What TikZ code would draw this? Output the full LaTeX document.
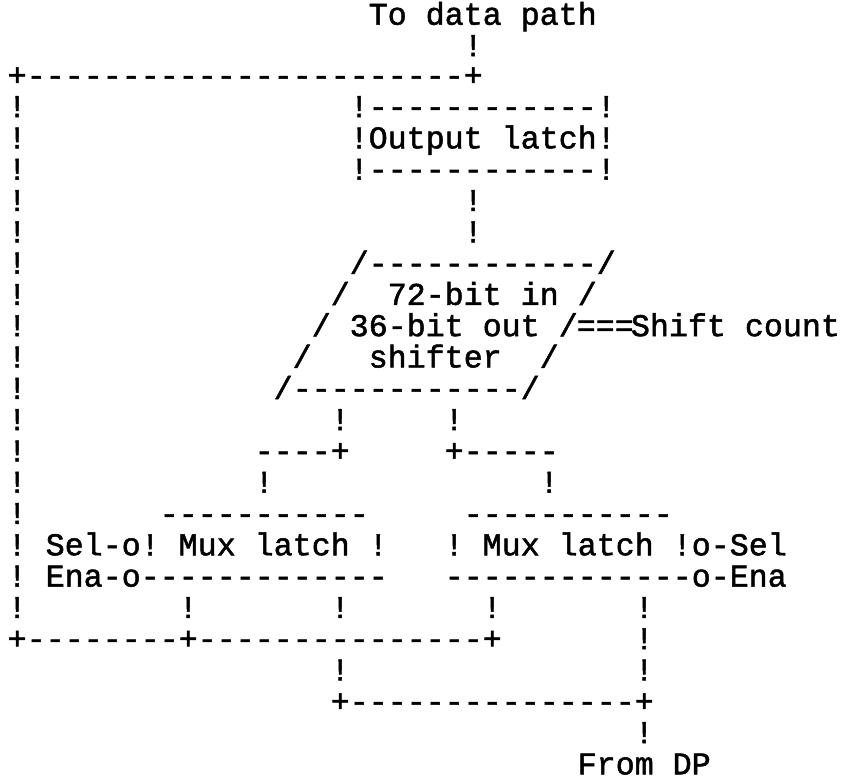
\documentclass[tikz,border=0pt]{standalone}
\usepackage{fontspec}
\setmonofont{Liberation Mono}[FakeBold=1.6]
\usepackage{tikz}
\newcommand{\typed}{\ttfamily\frenchspacing\fontsize{31.67pt}{32pt}\selectfont}

\begin{document}
\begin{tikzpicture}[x=19pt,y=-31.3pt,
   ascii/.style={font=\typed,inner sep=0pt,text depth=0pt,anchor=mid west,yshift=-5pt}]
  \useasboundingbox (-0.895,0.489) rectangle (43.42,25.47);
  \node[ascii] (todp) at (18.5,1.05) {To data path};
  \node[ascii] (up1)  at (23.5,2.05) {!};
  \node[ascii] (loop) at (-0.5,3) {+-----------------------+};
  \foreach \r in {4,...,20}
    \node[ascii] (side\r) at (-0.5,\r) {!};
  \node[ascii] (olt) at (17.5,4) {!------------!};
  \node[ascii] (ol)  at (17.5,5) {!Output latch!};
  \node[ascii] (olb) at (17.5,6) {!------------!};
  \node[ascii] (up2) at (23.5,7) {!};
  \node[ascii] (up3) at (23.5,8) {!};
  % shifter
  \node[ascii] (sht)  at (17.5,9)  {/------------/};
  \node[ascii] (sh1l) at (16.5,10) {/};
  \node[ascii] (sh1)  at (19.5,10) {72-bit in /};
  \node[ascii] (sh2l) at (15.5,11) {/};
  \node[ascii] (sh2)  at (17.5,11) {36-bit out /};
  \node[ascii] (cnt)  at (29.45,11) {===};
  \node[ascii] (shc)  at (32.3,11) {Shift count};
  \node[ascii] (sh3l) at (14.5,12) {/};
  \node[ascii] (sh3)  at (18.5,12) {shifter};
  \node[ascii] (sh3r) at (27.5,12) {/};
  \node[ascii] (shb)  at (13.5,13) {/------------/};
  \node[ascii] (dnl)  at (16.5,14) {!};
  \node[ascii] (dnr)  at (22.5,14) {!};
  \node[ascii] (brl)  at (12.5,15) {----+};
  \node[ascii] (brr)  at (22.5,15) {+-----};
  \node[ascii] (inl)  at (12.5,16) {!};
  \node[ascii] (inr)  at (27.5,16) {!};
  % mux latches
  \node[ascii] (mlt)  at (7.5,17)  {-----------};
  \node[ascii] (mrt)  at (23.5,17) {-----------};
  \node[ascii] (ml)   at (1.5,18)  {Sel-o! Mux latch !};
  \node[ascii] (mr)   at (22.5,18) {! Mux latch !o-Sel};
  \node[ascii] (mlb)  at (1.5,19)  {Ena-o-------------};
  \node[ascii] (mrb)  at (22.5,19) {-------------o-Ena};
  \node[ascii] (ol1)  at (8.5,20)  {!};
  \node[ascii] (ol2)  at (16.5,20) {!};
  \node[ascii] (or1)  at (24.5,20) {!};
  \node[ascii] (or2)  at (32.5,20) {!};
  % feedback and input
  \node[ascii] (fb)   at (-0.5,21) {+--------+---------------+};
  \node[ascii] (dp1)  at (32.5,21) {!};
  \node[ascii] (mid)  at (16.5,22) {!};
  \node[ascii] (dp2)  at (32.5,22) {!};
  \node[ascii] (jn)   at (16.5,23) {+---------------+};
  \node[ascii] (dp3)  at (32.5,24) {!};
  \node[ascii] (fromdp) at (29.5,25) {From DP};
\end{tikzpicture}
\end{document}
